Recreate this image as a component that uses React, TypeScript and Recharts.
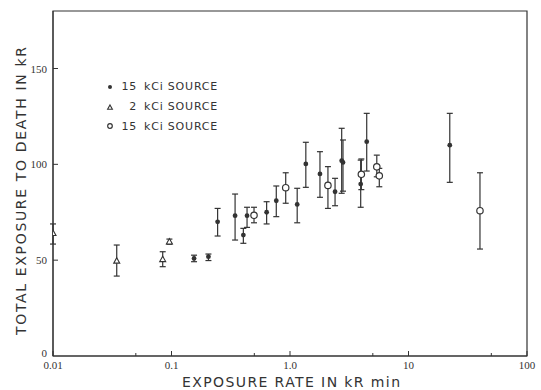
import { ScatterChart, Scatter, XAxis, YAxis, ErrorBar, ReferenceArea, Legend, Label } from "recharts"

// 15 kCi source, filled dots
const filledRate = [0.155, 0.205, 0.245, 0.344, 0.404, 0.434, 0.635, 0.766, 1.15, 1.36, 1.79, 2.4, 2.73, 2.8, 3.95, 4.44, 22.3]
const filledDose = [50.9, 51.8, 70, 73.2, 63.1, 73.2, 75, 81, 79.1, 100.2, 95, 85.7, 101.9, 101, 89.7, 111.8, 110]
const filledHigh = [52.6, 53.2, 77, 84.5, 66.6, 77.6, 80.5, 88.7, 87.5, 111.5, 106.6, 92.7, 118.8, 112.7, 102.2, 126.6, 126.6]
const filledLow = [49.2, 49.8, 62.6, 60.5, 58.8, 67.1, 68.9, 72.7, 69.5, 88, 82.8, 78.4, 84.9, 86, 77.6, 96.5, 90.6]

// 2 kCi source, triangles
const triRate = [0.01, 0.0345, 0.0843, 0.096]
const triDose = [64, 49.6, 50.4, 59.6]
const triHigh = [68.9, 57.9, 54.4, 61]
const triLow = [58.4, 41.7, 46.6, 58.3]

// 15 kCi source, open circles
const openRate = [0.497, 0.92, 2.09, 4.0, 5.4, 5.67, 40.1]
const openDose = [73.4, 87.8, 89, 94.8, 98.7, 94, 75.8]
const openHigh = [77.6, 95.6, 98.8, 102.8, 104.8, 97.9, 95.6]
const openLow = [69.5, 79.7, 77, 86.8, 93.5, 88.3, 55.8]

const majorTicks = [0.01, 0.1, 1, 10, 100]
const majorLabels = ["0.01", "0.1", "1.0", "10", "100"]
const minorTicks = [0.05, 0.5, 5, 50]
const yTicks = [0, 50, 100, 150]

const legendItems = [
  { num: "15", text: "kCi SOURCE", kind: "filled" },
  { num: "2", text: "kCi SOURCE", kind: "tri" },
  { num: "15", text: "kCi SOURCE", kind: "open" },
]

const ink = "#333"

function rows(rate: number[], dose: number[], high: number[], low: number[]) {
  return rate.map((r, i) => ({ rate: r, dose: dose[i], err: [dose[i] - low[i], high[i] - dose[i]] }))
}

const FilledDot = (p: any) => <circle cx={p.cx} cy={p.cy} r={p.r ?? 2.4} fill={ink} />
const OpenDot = (p: any) => <circle cx={p.cx} cy={p.cy} r={p.r ?? 3.2} fill="#fff" stroke={ink} strokeWidth={1.2} />
const TriDot = (p: any) => {
  const s = p.s ?? 1
  return (
    <path
      d={`M${p.cx},${p.cy - 3.2 * s}L${p.cx + 3 * s},${p.cy + 2.2 * s}L${p.cx - 3 * s},${p.cy + 2.2 * s}Z`}
      fill="#fff"
      stroke={ink}
      strokeWidth={1.1}
    />
  )
}

const XTick = (p: any) => {
  const i = majorTicks.indexOf(p.payload.value)
  return (
    <g>
      <line x1={p.x} x2={p.x} y1={p.y} y2={p.y - (i >= 0 ? 5 : 3)} stroke={ink} />
      {i >= 0 && (
        <text x={p.x} y={p.y + 13} textAnchor="middle" fontSize={11} fontFamily="Liberation Serif" fill={ink}>
          {majorLabels[i]}
        </text>
      )}
    </g>
  )
}

const YTick = (p: any) => (
  <g>
    {p.payload.value > 0 && <line x1={p.x} x2={p.x + 5} y1={p.y} y2={p.y} stroke={ink} />}
    <text x={p.x - 6} y={p.y + (p.payload.value > 0 ? 4 : 1)} textAnchor="end" fontSize={11} fontFamily="Liberation Serif" fill={ink}>
      {p.payload.value}
    </text>
  </g>
)

const LegendBox = () => (
  <div style={{ fontFamily: "DejaVu Sans", fontSize: 11, color: ink, letterSpacing: 0.8 }}>
    {legendItems.map((it, i) => (
      <div key={i} style={{ display: "flex", alignItems: "center", height: 19.7 }}>
        <svg width={10} height={10}>
          {it.kind === "filled" && <FilledDot cx={5} cy={5} r={2} />}
          {it.kind === "open" && <OpenDot cx={5} cy={5} r={2.3} />}
          {it.kind === "tri" && <TriDot cx={5} cy={5.5} s={0.8} />}
        </svg>
        <span style={{ width: 22, textAlign: "right", marginRight: 7 }}>{it.num}</span>
        <span>{it.text}</span>
      </div>
    ))}
  </div>
)

export default function App() {
  return (
    <div style={{ position: "absolute", left: 0, top: 0, background: "#fff" }}>
      <ScatterChart width={541} height={390} margin={{ top: 11, right: 14, bottom: 0, left: 0 }}>
        <XAxis
          type="number"
          dataKey="rate"
          scale="log"
          domain={[0.01, 100]}
          allowDataOverflow
          ticks={[...majorTicks, ...minorTicks]}
          interval={0}
          height={34}
          tickSize={0}
          tickMargin={0}
          tickLine={false}
          stroke={ink}
          tick={XTick}
        >
          <Label
            content={(lp: any) => (
              <text
                x={291}
                y={lp.viewBox.y + lp.viewBox.height - 3}
                textAnchor="middle"
                fontFamily="DejaVu Sans"
                fontSize={14}
                fill={ink}
                textLength={218}
                lengthAdjust="spacing"
              >
                EXPOSURE RATE IN kR min
              </text>
            )}
          />
        </XAxis>
        <YAxis
          type="number"
          dataKey="dose"
          domain={[0, 180]}
          ticks={yTicks}
          width={53}
          tickSize={0}
          tickMargin={0}
          tickLine={false}
          stroke={ink}
          tick={YTick}
        >
          <Label
            content={() => (
              <text
                x={26}
                y={191}
                transform="rotate(-90, 26, 191)"
                textAnchor="middle"
                fontFamily="DejaVu Sans"
                fontSize={14}
                fill={ink}
                textLength={288}
                lengthAdjust="spacing"
              >
                TOTAL EXPOSURE TO DEATH IN kR
              </text>
            )}
          />
        </YAxis>
        <ReferenceArea x1={0.01} x2={100} y1={0} y2={180} fill="none" stroke={ink} strokeWidth={1.2} />
        <Legend
          layout="vertical"
          align="center"
          verticalAlign="middle"
          wrapperStyle={{ left: 105, top: 77, width: 170 }}
          content={LegendBox}
        />
        <Scatter name="15 kCi SOURCE" data={rows(filledRate, filledDose, filledHigh, filledLow)} shape={FilledDot} isAnimationActive={false}>
          <ErrorBar dataKey="err" direction="y" width={3} stroke={ink} strokeWidth={1.2} />
        </Scatter>
        <Scatter name="2 kCi SOURCE" data={rows(triRate, triDose, triHigh, triLow)} shape={TriDot} isAnimationActive={false}>
          <ErrorBar dataKey="err" direction="y" width={3} stroke={ink} strokeWidth={1.2} />
        </Scatter>
        <Scatter name="15 kCi SOURCE " data={rows(openRate, openDose, openHigh, openLow)} shape={OpenDot} isAnimationActive={false}>
          <ErrorBar dataKey="err" direction="y" width={3} stroke={ink} strokeWidth={1.2} />
        </Scatter>
      </ScatterChart>
    </div>
  )
}
